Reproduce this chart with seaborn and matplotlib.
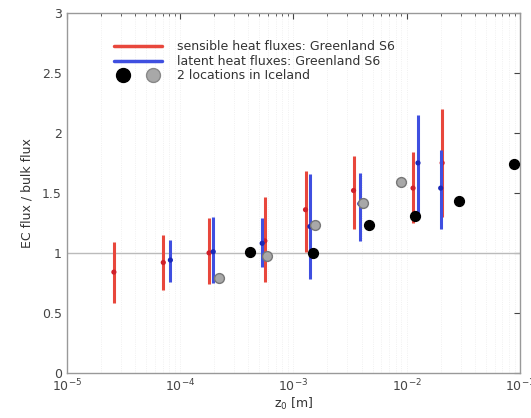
import numpy as np
import pandas as pd
import matplotlib
matplotlib.use("Agg")
import matplotlib.pyplot as plt
import seaborn as sns
from matplotlib.lines import Line2D
from matplotlib.legend_handler import HandlerTuple

# --- Greenland S6: sensible heat fluxes ---
sens_z = [2.6e-5, 7.1e-5, 1.8e-4, 5.6e-4, 1.28e-3, 3.4e-3, 1.14e-2, 2.06e-2]
sens_y = [0.84, 0.92, 1.00, 1.10, 1.36, 1.52, 1.54, 1.75]
sens_lo = [0.585, 0.69, 0.74, 0.76, 1.01, 1.20, 1.25, 1.30]
sens_hi = [1.09, 1.15, 1.29, 1.47, 1.68, 1.81, 1.84, 2.20]

# --- Greenland S6: latent heat fluxes ---
lat_z = [8.2e-5, 1.96e-4, 5.3e-4, 1.4e-3, 3.86e-3, 1.26e-2, 2.0e-2]
lat_y = [0.94, 1.01, 1.08, 1.22, 1.41, 1.75, 1.54]
lat_lo = [0.76, 0.75, 0.88, 0.78, 1.10, 1.29, 1.20]
lat_hi = [1.11, 1.30, 1.29, 1.66, 1.67, 2.15, 1.86]

# --- 2 locations in Iceland ---
ice1_z = [4.1e-4, 1.5e-3, 4.7e-3, 1.18e-2, 2.9e-2, 8.9e-2]
ice1_y = [1.01, 1.00, 1.23, 1.31, 1.43, 1.74]
ice2_z = [2.2e-4, 5.8e-4, 1.55e-3, 4.1e-3, 9.0e-3]
ice2_y = [0.79, 0.975, 1.23, 1.42, 1.59]

red = "#e8473c"
blue = "#3f4fe0"

sns.set_style("white")
plt.rcParams["font.family"] = ["DejaVu Sans"]

fig = plt.figure(figsize=(5.31, 4.18), dpi=100)
ax = fig.add_axes([0.126, 0.108, 0.853, 0.861])

ax.axhline(1, color="#bbbbbb", lw=1, zorder=1)

sens = pd.DataFrame({"z": sens_z, "y": sens_y, "lo": sens_lo, "hi": sens_hi})
lat = pd.DataFrame({"z": lat_z, "y": lat_y, "lo": lat_lo, "hi": lat_hi})

# sensible: bars + centre dots
ax.vlines(sens["z"], sens["lo"], sens["hi"], color=red, lw=2.2, zorder=2)
sns.scatterplot(data=sens, x="z", y="y", color="#d0202a", s=14, edgecolor="none",
                ax=ax, zorder=3)
# latent on top
ax.vlines(lat["z"], lat["lo"], lat["hi"], color=blue, lw=2.2, zorder=4)
sns.scatterplot(data=lat, x="z", y="y", color="#1a28b8", s=14, edgecolor="none",
                ax=ax, zorder=5)

# Iceland sites
sns.scatterplot(x=ice2_z, y=ice2_y, color="#a8a8a8", s=50, edgecolor="#777777",
                linewidth=1, ax=ax, zorder=6)
sns.scatterplot(x=ice1_z, y=ice1_y, color="black", s=50, edgecolor="black",
                linewidth=1, ax=ax, zorder=7)

ax.set_xscale("log")
ax.set_xlim(1e-5, 1e-1)
ax.set_ylim(0, 3)
ax.set_yticks([0, 0.5, 1, 1.5, 2, 2.5, 3])
ax.set_yticklabels(["0", "0.5", "1", "1.5", "2", "2.5", "3"])
ax.set_xticks([1e-5, 1e-4, 1e-3, 1e-2, 1e-1])
ax.set_xticklabels([r"$10^{-5}$", r"$10^{-4}$", r"$10^{-3}$", r"$10^{-2}$", r"$10^{-1}$"])
ax.tick_params(axis="both", which="both", direction="in", labelsize=9,
               colors="#444444", top=True, right=True)
ax.tick_params(which="major", length=4)
ax.tick_params(which="minor", length=2)
ax.grid(True, axis="x", which="both", color="#ececec", lw=0.6, ls=":")

for sp in ax.spines.values():
    sp.set_color("#999999")
    sp.set_linewidth(1)

ax.set_xlabel(r"z$_0$ [m]", fontsize=9, color="#333333", labelpad=1)
ax.set_ylabel("EC flux / bulk flux", fontsize=9, color="#333333", labelpad=6)

handles = [
    Line2D([], [], color=red, lw=2.5),
    Line2D([], [], color=blue, lw=2.5),
    (Line2D([], [], marker="o", color="black", ls="none", ms=10),
     Line2D([], [], marker="o", color="#a8a8a8", mec="#888888", ls="none", ms=10)),
]
ax.legend(handles, ["sensible heat fluxes: Greenland S6",
                    "latent heat fluxes: Greenland S6",
                    "2 locations in Iceland"],
          handler_map={tuple: HandlerTuple(ndivide=None, pad=1.0)},
          loc="upper left", bbox_to_anchor=(0.08, 0.955), frameon=False,
          fontsize=9, handlelength=3.8, labelspacing=0.12, handletextpad=1.2,
          labelcolor="#333333")

fig.savefig("out.png", dpi=100)
